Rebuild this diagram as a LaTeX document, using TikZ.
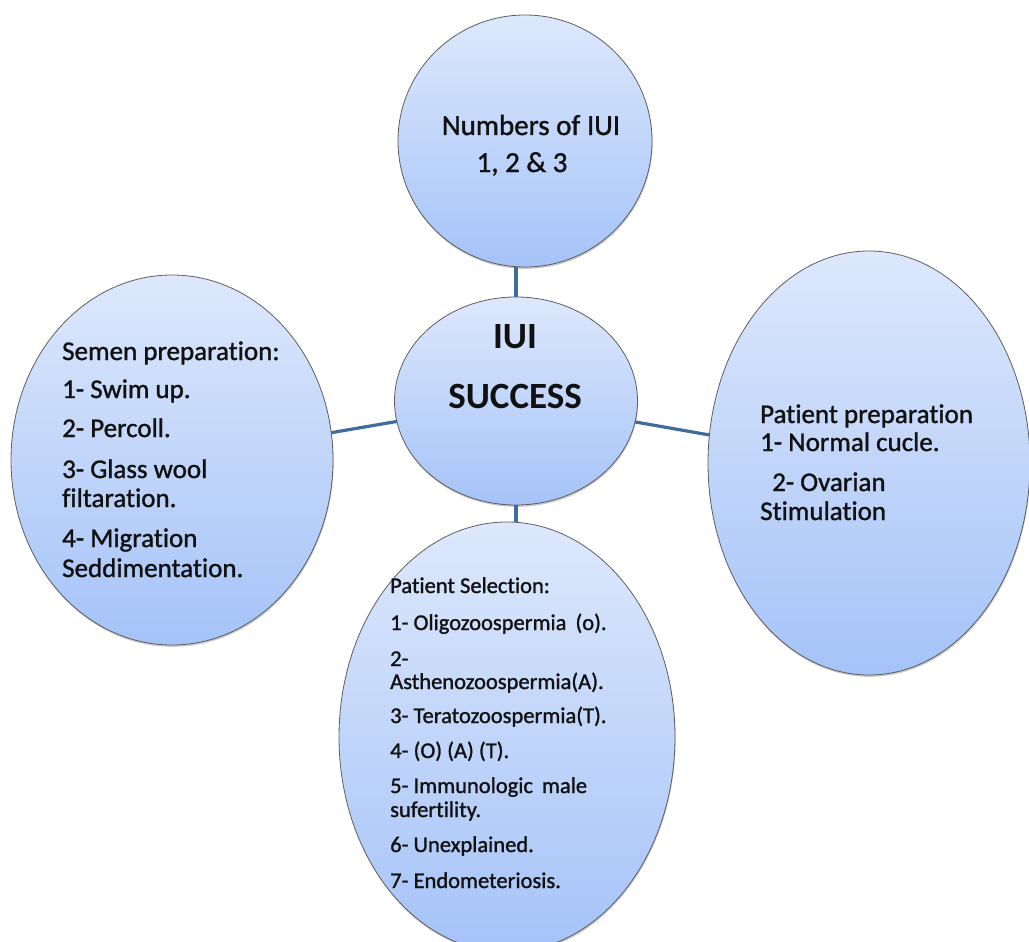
\documentclass[tikz,border=0pt]{standalone}
\usepackage{fontspec}
\setmainfont[Ligatures=NoCommon]{Carlito}
\newfontfamily\heavy[Ligatures=NoCommon, FakeBold=1.2]{Carlito}
\usetikzlibrary{shapes.geometric,shadows}
\definecolor{ftop}{HTML}{DDE8FC}
\definecolor{fbot}{HTML}{A5C3F8}
\definecolor{edgec}{HTML}{5E5E5E}
\definecolor{linkc}{HTML}{3F6C9D}
\definecolor{ink}{HTML}{111111}
\begin{document}
\begin{tikzpicture}[x=1pt,y=-1pt,
  bubble/.style={ellipse, draw=edgec, line width=0.8pt, top color=ftop, bottom color=fbot,
    inner sep=0pt, outer sep=0pt,
    drop shadow={shadow xshift=0.6pt, shadow yshift=-1.8pt, opacity=0.22, fill=black}},
  conn/.style={draw=linkc, line width=3.2pt},
  txt/.style={text=ink, inner sep=0pt, anchor=base west},
  ctxt/.style={text=ink, inner sep=0pt, anchor=base},
  fbig/.style={font=\heavy\fontsize{27}{30}\selectfont},
  fsmall/.style={font=\heavy\fontsize{22.5}{24}\selectfont},
  ftopf/.style={font=\heavy\fontsize{29}{30}\selectfont},
  fctr/.style={font=\bfseries\fontsize{37}{40}\selectfont}]
\useasboundingbox (0,0) rectangle (1029,942);

\node[bubble, minimum width=254pt, minimum height=252pt] (top) at (525,141) {};
\node[bubble, minimum width=243pt, minimum height=208pt] (ctr) at (516,401) {};
\node[bubble, minimum width=322pt, minimum height=370pt] (sem) at (172,460) {};
\node[bubble, minimum width=322pt, minimum height=424pt] (pat) at (869,463) {};
\node[bubble, minimum width=336pt, minimum height=430pt] (sel) at (507,737) {};

\draw[conn] (ctr) -- (sem);
\draw[conn] (ctr) -- (pat);
\draw[conn] (ctr.north) -- (ctr.north |- top.south);
\draw[conn] (ctr.south) -- (ctr.south |- sel.north);

% top
\node[ctxt, ftopf] (t1) at (531,135) {Numbers of IUI};
\node[ctxt, ftopf] (t2) at (522,172) {1, 2 \& 3};
% centre
\node[ctxt, fctr] (c1) at (515,348) {IUI};
\node[ctxt, fctr] (c2) at (515,408) {SUCCESS};
% left
\node[txt, fbig] (s1) at (62,360) {Semen preparation:};
\node[txt, fbig] (s2) at (62,398) {1- Swim\hspace{6pt}up.};
\node[txt, fbig] (s3) at (62,437) {2- Percoll.};
\node[txt, fbig] (s4) at (62,478) {3- Glass wool};
\node[txt, fbig] (s5) at (62,507) {filtaration.};
\node[txt, fbig] (s6) at (62,547) {4- Migration};
\node[txt, fbig] (s7) at (62,577) {Seddimentation.};
% right
\node[txt, fbig] (p1) at (760,423) {Patient preparation};
\node[txt, fbig] (p2) at (760,451) {1- Normal cucle.};
\node[txt, fbig] (p3) at (772,491) {2- Ovarian};
\node[txt, fbig] (p4) at (760,520) {Stimulation};
% bottom
\node[txt, fsmall] (e1) at (390,593) {Patient Selection:};
\node[txt, fsmall] (e2) at (390,630) {1- Oligozoospermia\hspace{9pt}(o).};
\node[txt, fsmall] (e3) at (390,666) {2-};
\node[txt, fsmall] (e4) at (390,689) {Asthenozoospermia(A).};
\node[txt, fsmall] (e5) at (390,723) {3- Teratozoospermia(T).};
\node[txt, fsmall] (e6) at (390,758) {4- (O) (A) (T).};
\node[txt, fsmall] (e7) at (390,793) {5- Immunologic\hspace{9pt}male};
\node[txt, fsmall] (e8) at (390,817) {sufertility.};
\node[txt, fsmall] (e9) at (390,852) {6- Unexplained.};
\node[txt, fsmall] (e10) at (390,888) {7- Endometeriosis.};
\end{tikzpicture}
\end{document}
